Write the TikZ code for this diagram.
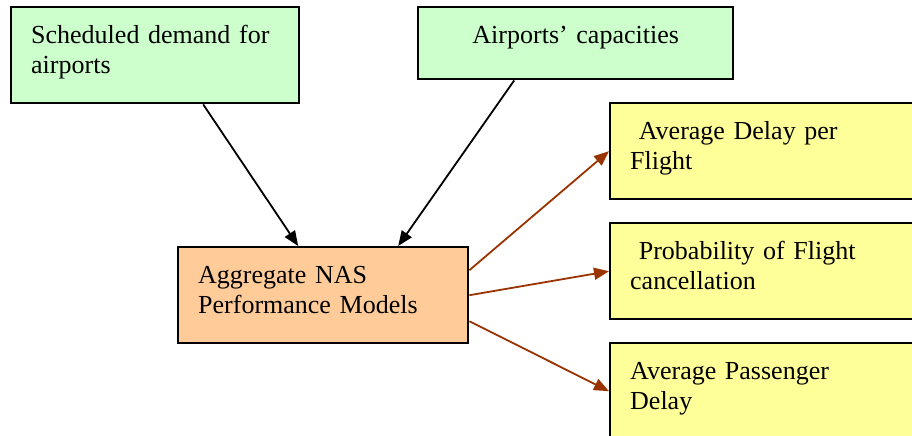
\documentclass[tikz,border=0pt]{standalone}
\usepackage{fontspec}
\setmainfont{Liberation Serif}
\usetikzlibrary{arrows.meta}

\definecolor{inputgreen}{HTML}{CCFFCC}
\definecolor{modelorange}{HTML}{FFCC99}
\definecolor{outputyellow}{HTML}{FFFF99}
\definecolor{arrowbrown}{HTML}{993300}

\begin{document}
\begin{tikzpicture}[x=0.5pt,y=-0.5pt,
  box/.style={draw, line width=1.2pt, anchor=north west, inner xsep=10pt, inner ysep=0pt,
    align=left, text height=18pt, text depth=30pt, font=\fontsize{13}{15}\selectfont},
  conn/.style={-{Triangle[length=7.5pt,width=6pt]}, line width=0.9pt}]

\clip (0,0) rectangle (912,435);

% inputs
\node[box, fill=inputgreen, text width=124pt] (demand) at (10,6) {Scheduled demand for\\airports};
\node[box, fill=inputgreen, text width=137.5pt, align=center, text depth=18pt] (capacity) at (417,6) {Airports’ capacities};

% model
\node[box, fill=modelorange, text width=125pt] (model) at (177,246) {Aggregate NAS\\Performance Models};

% outputs
\node[box, fill=outputyellow, text width=140pt] (delay) at (609,102) {~Average Delay per\\Flight};
\node[box, fill=outputyellow, text width=140pt] (cancel) at (609,222) {~Probability of Flight\\cancellation};
\node[box, fill=outputyellow, text width=140pt] (passenger) at (609,342) {Average Passenger\\Delay};

\draw[conn] ([xshift=24pt]demand.south) -- ([xshift=-12.5pt]model.north);
\draw[conn] ([xshift=-30.75pt]capacity.south) -- ([xshift=37.5pt]model.north);

\draw[conn, arrowbrown] ([yshift=12.5pt]model.east) -- (delay.west);
\draw[conn, arrowbrown] (model.east) -- (cancel.west);
\draw[conn, arrowbrown] ([yshift=-13pt]model.east) -- (passenger.west);

\end{tikzpicture}
\end{document}
